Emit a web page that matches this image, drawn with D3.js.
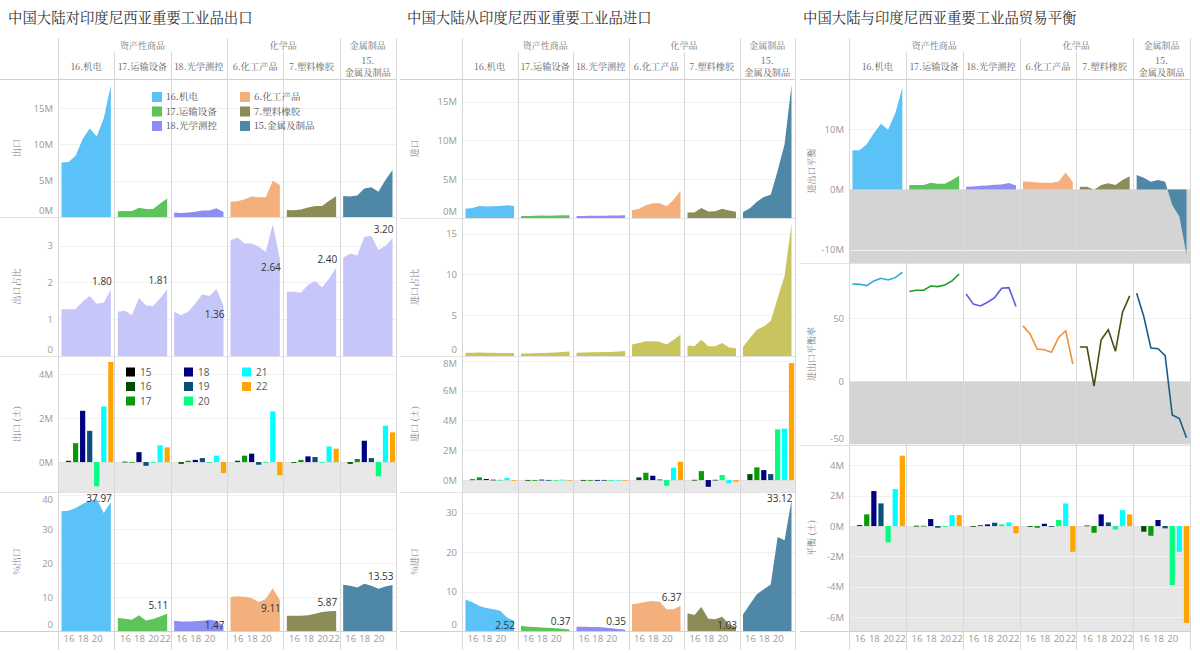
<!DOCTYPE html>
<html><head><meta charset="utf-8">
<script src="https://cdn.jsdelivr.net/npm/d3@7/dist/d3.min.js"></script>
<style>
body{margin:0;background:#fff;}
svg text{font-family:"Open Sans","Noto Sans CJK SC",sans-serif;}
</style></head><body>
<svg id="chart" width="1200" height="653"></svg>
<script>
// ---------------- DATA ----------------
const years = [2015, 2016, 2017, 2018, 2019, 2020, 2021, 2022];
const categories = ["16.机电", "17.运输设备", "18.光学测控", "6.化工产品", "7.塑料橡胶", "15.金属及制品"];
const groupNames = ["资产性商品", "化学品", "金属制品"];
const groupSpans = [3, 2, 1];
const titles = ["中国大陆对印度尼西亚重要工业品出口", "中国大陆从印度尼西亚重要工业品进口", "中国大陆与印度尼西亚重要工业品贸易平衡"];

const catColors = ["#5BC2F7", "#5CC45A", "#8D8DF2", "#F4B07C", "#8C8C58", "#4F87A6"];
const lineColors = ["#2CA8E8", "#1EA01E", "#5B5BE0", "#F0913A", "#4D4D10", "#1B5C86"];
const yearLabels = ["15", "16", "17", "18", "19", "20", "21", "22"];
const yearColors = ["#000000", "#004D00", "#089A08", "#000080", "#0A4F7A", "#00FF80", "#00FFFF", "#FFA500"];

// Exports (million), share, YoY change, % of total
const exportValues = [
  [7.5, 7.56, 8.42, 10.75, 12.17, 11.07, 13.6, 18.15],
  [0.8, 0.82, 0.82, 1.27, 1.1, 1.1, 1.86, 2.53],
  [0.62, 0.56, 0.62, 0.72, 0.9, 0.9, 1.19, 0.69],
  [2.1, 2.16, 2.45, 2.83, 2.71, 2.71, 5.0, 4.4],
  [0.96, 0.94, 1.04, 1.3, 1.53, 1.53, 2.24, 2.85],
  [2.9, 2.82, 2.96, 3.93, 4.11, 3.46, 5.11, 6.46]
];
const exportShare = [
  [1.27, 1.27, 1.27, 1.48, 1.63, 1.42, 1.45, 1.80],
  [1.2, 1.23, 1.11, 1.58, 1.37, 1.36, 1.57, 1.81],
  [1.2, 1.11, 1.2, 1.43, 1.68, 1.63, 1.82, 1.36],
  [3.15, 3.22, 3.06, 3.06, 2.97, 2.83, 3.58, 2.64],
  [1.75, 1.75, 1.72, 1.93, 2.04, 1.86, 2.11, 2.40],
  [2.67, 2.79, 2.73, 3.24, 3.27, 2.88, 3.0, 3.20]
];
const exportChange = [
  [null, 0.06, 0.86, 2.33, 1.42, -1.1, 2.53, 4.55],
  [null, 0.02, 0.01, 0.45, -0.17, 0.01, 0.76, 0.67],
  [null, -0.08, 0.06, 0.1, 0.18, 0.01, 0.29, -0.5],
  [null, 0.06, 0.29, 0.38, -0.12, 0.01, 2.3, -0.6],
  [null, -0.02, 0.1, 0.26, 0.23, 0.01, 0.71, 0.61],
  [null, -0.08, 0.14, 0.97, 0.18, -0.65, 1.65, 1.35]
];
const exportPct = [
  [35.2, 35.4, 36.2, 37.4, 38.3, 38.8, 34.7, 37.97],
  [3.8, 3.6, 3.3, 4.6, 3.1, 3.5, 4.3, 5.11],
  [3.0, 2.8, 2.8, 2.9, 3.0, 3.3, 3.0, 1.47],
  [10.0, 10.2, 10.1, 9.7, 8.5, 9.4, 12.6, 9.11],
  [4.5, 4.5, 4.5, 4.6, 5.1, 5.6, 5.8, 5.87],
  [13.6, 13.3, 12.8, 13.9, 13.3, 12.4, 13.1, 13.53]
];

// Imports
const importValues = [
  [1.2, 1.3, 1.55, 1.47, 1.5, 1.55, 1.65, 1.55],
  [0.25, 0.27, 0.29, 0.32, 0.3, 0.31, 0.35, 0.36],
  [0.25, 0.27, 0.29, 0.3, 0.3, 0.31, 0.33, 0.34],
  [1.0, 1.2, 1.65, 1.9, 1.9, 1.5, 2.35, 3.5],
  [0.7, 0.72, 1.3, 0.85, 0.86, 1.2, 0.95, 0.8],
  [0.77, 1.25, 2.1, 2.7, 3.0, 6.1, 9.5, 17.1]
];
const importShare = [
  [0.4, 0.4, 0.42, 0.4, 0.4, 0.38, 0.38, 0.36],
  [0.3, 0.32, 0.35, 0.38, 0.4, 0.42, 0.5, 0.55],
  [0.4, 0.42, 0.45, 0.47, 0.48, 0.5, 0.55, 0.6],
  [1.4, 1.6, 1.8, 1.8, 1.75, 1.4, 2.0, 2.6],
  [1.28, 1.2, 2.0, 1.2, 1.2, 1.6, 1.05, 0.95],
  [1.1, 2.2, 3.2, 3.6, 4.3, 7.1, 9.8, 16.2]
];
const importChange = [
  [null, 0.05, 0.18, 0.07, 0.03, 0.02, 0.15, 0.01],
  [null, 0.01, 0.01, 0.03, 0.01, 0.01, 0.03, 0.01],
  [null, 0.01, 0.01, 0.01, 0.01, 0.01, 0.01, 0.01],
  [null, 0.18, 0.49, 0.29, 0.04, -0.38, 0.83, 1.23],
  [null, 0.02, 0.6, -0.45, 0.02, 0.34, -0.22, -0.11],
  [null, 0.4, 0.85, 0.67, 0.4, 3.4, 3.45, 7.85]
];
const importPct = [
  [8.0, 7.3, 6.3, 5.8, 5.5, 5.1, 3.4, 2.52],
  [1.3, 1.1, 1.0, 0.9, 0.85, 0.7, 0.55, 0.37],
  [1.1, 1.1, 1.0, 1.0, 0.9, 0.7, 0.5, 0.35],
  [6.8, 7.0, 7.4, 7.6, 7.4, 5.5, 5.5, 6.37],
  [4.5, 4.05, 6.1, 3.1, 3.0, 3.6, 1.7, 1.03],
  [4.2, 6.8, 9.3, 10.6, 11.8, 23.8, 23.0, 33.12]
];

// Balance
const balanceValues = [
  [6.5, 6.5, 7.5, 9.3, 10.9, 9.9, 12.6, 16.85],
  [0.72, 0.72, 0.72, 1.1, 0.94, 0.94, 1.55, 2.26],
  [0.44, 0.5, 0.6, 0.66, 0.77, 0.83, 1.05, 0.66],
  [1.3, 1.25, 1.15, 1.1, 1.1, 1.3, 2.8, 1.2],
  [0.44, 0.44, -0.05, 0.72, 1.0, 0.72, 1.55, 2.2],
  [2.38, 1.93, 1.27, 1.55, 1.27, -2.6, -4.5, -10.8]
];
const balanceRate = [
  [77.1, 76.8, 75.8, 79.5, 81.6, 80.3, 82.1, 86.3],
  [71.1, 72.1, 72.1, 75.5, 75.0, 76.3, 79.5, 85.0],
  [69.2, 61.1, 59.7, 62.6, 66.3, 73.7, 74.2, 59.2],
  [43.9, 37.4, 25.5, 25.0, 22.9, 34.7, 40.0, 13.7],
  [27.1, 27.1, -3.9, 32.9, 40.8, 23.7, 54.7, 67.6],
  [69.7, 51.3, 26.3, 25.8, 20.3, -26.8, -29.5, -44.7]
];
const balanceChange = [
  [null, 0.07, 0.77, 2.3, 1.49, -1.07, 2.43, 4.63],
  [null, 0.02, 0.02, 0.46, -0.11, 0.01, 0.72, 0.72],
  [null, -0.04, 0.07, 0.11, 0.22, 0.11, 0.24, -0.48],
  [null, -0.04, -0.11, 0.15, -0.04, 0.4, 1.49, -1.69],
  [null, 0.04, -0.44, 0.77, 0.24, -0.22, 1.05, 0.77],
  [null, -0.37, -0.64, 0.4, -0.15, -3.88, -1.69, -6.36]
];

// Axis tick values
const ticksExport = [0, 5, 10, 15], ticksExportShare = [0, 1, 2, 3], ticksExportChange = [0, 2, 4], ticksExportPct = [0, 10, 20, 30, 40];
const ticksImport = [0, 5, 10, 15], ticksImportShare = [0, 5, 10, 15], ticksImportChange = [0, 2, 4, 6, 8], ticksImportPct = [0, 10, 20, 30];
const ticksBalance = [-10, 0, 10], ticksBalanceRate = [-50, 0, 50], ticksBalanceChange = [-6, -4, -2, 0, 2, 4];
const xTicksLeft = [[16, 18, 20], [16, 18, 20, 22], [16, 18, 20], [16, 18, 20], [16, 18, 20, 22], [16, 18, 20]];
const xTicksMid = [[16, 18, 20], [16, 18, 20], [16, 18, 20], [16, 18, 20], [16, 18, 20], [16, 18, 20]];
const xTicksRight = [[16, 18, 20, 22], [16, 18, 20, 22], [16, 18, 20, 22], [16, 18, 20, 22], [16, 18, 20, 22], [16, 18, 20]];

// ---------------- LAYOUT ----------------
const CJK = '"Noto Serif CJK SC","Noto Sans CJK SC",serif';
const fmtM = v => v + "M";
const fmtN = v => String(v);
const GREY_LIGHT = "#E8E8E8", GREY_DARK = "#D4D4D4";

const panels = [
  {x0: 0, titleX: 8, axisX: 58, right: 396, yTitleX: 17, xTicks: xTicksLeft, title: titles[0],
   legendCat: {x: 152, dx: 88, y: 97, dy: 14.5}, legendYear: {x: 126, dx: 58, y: 372, dy: 14.5},
   rows: [
     {name: "出口", top: 79, bottom: 217, domain: [0, 19], ticks: ticksExport, fmt: fmtM, type: "area", data: exportValues},
     {name: "出口占比", top: 217, bottom: 356, domain: [0, 3.78], ticks: ticksExportShare, fmt: fmtN, type: "area", data: exportShare, fill: "#C6C6F8",
      endLabel: ["above", "above", "below", "below", "above", "above"], labelFmt: d3.format(".2f")},
     {name: "出口 (±)", top: 356, bottom: 492, domain: [-1.36, 4.82], ticks: ticksExportChange, fmt: fmtM, type: "bars", data: exportChange, neg: GREY_LIGHT},
     {name: "%出口", top: 492, bottom: 631, domain: [0, 40.9], ticks: ticksExportPct, fmt: fmtN, type: "area", data: exportPct,
      endLabel: ["above", "above", "below", "below", "above", "above"], labelFmt: d3.format(".2f")}
   ]},
  {x0: 400, titleX: 407, axisX: 462, right: 795, yTitleX: 415, xTicks: xTicksMid, title: titles[1],
   rows: [
     {name: "进口", top: 79, bottom: 218, domain: [0, 17.9], ticks: ticksImport, fmt: fmtM, type: "area", data: importValues},
     {name: "进口占比", top: 218, bottom: 356, domain: [0, 16.9], ticks: ticksImportShare, fmt: fmtN, type: "area", data: importShare, fill: "#C9C55E"},
     {name: "进口 (±)", top: 356, bottom: 492, domain: [-0.8, 8.32], ticks: ticksImportChange, fmt: fmtM, type: "bars", data: importChange, neg: GREY_LIGHT},
     {name: "%进口", top: 492, bottom: 631, domain: [0, 35.2], ticks: ticksImportPct, fmt: fmtN, type: "area", data: importPct,
      endLabel: ["below", "above", "above", "above", "below", "above"], labelFmt: d3.format(".2f")}
   ]},
  {x0: 800, titleX: 803, axisX: 849, right: 1190, yTitleX: 812, xTicks: xTicksRight, title: titles[2],
   rows: [
     {name: "进出口平衡", top: 79, bottom: 263, domain: [-12.2, 18.3], ticks: ticksBalance, fmt: fmtM, type: "area", data: balanceValues, neg: GREY_DARK},
     {name: "进出口平衡率", top: 263, bottom: 445, domain: [-50.5, 93.7], ticks: ticksBalanceRate, fmt: fmtN, type: "line", data: balanceRate, neg: GREY_DARK},
     {name: "平衡 (±)", top: 445, bottom: 631, domain: [-6.9, 5.33], ticks: ticksBalanceChange, fmt: fmtM, type: "bars", data: balanceChange, neg: "#E6E6E6"}
   ]}
];

const svg = d3.select("#chart");

panels.forEach(p => {
  const g = svg.append("g");
  const xb = d3.scaleBand().domain(categories).range([p.axisX, p.right]);
  const bw = xb.bandwidth();
  const xYear = i => d3.scaleLinear().domain([2015, 2022]).range([xb(categories[i]) + 3.5, xb(categories[i]) + bw - 3.5]);

  // title
  g.append("text").attr("x", p.titleX).attr("y", 23).attr("font-size", 14.4).attr("fill", "#333")
    .style("font-family", CJK).text(p.title);

  // rows
  p.rows.forEach(r => {
    const y = d3.scaleLinear().domain(r.domain).range([r.bottom, r.top]);
    const rg = g.append("g");
    if (r.neg) {
      rg.append("rect").attr("x", p.axisX).attr("width", p.right - p.axisX)
        .attr("y", y(0)).attr("height", r.bottom - y(0)).attr("fill", r.neg);
    }
    // gridlines
    rg.selectAll("line.grid").data(r.ticks).join("line")
      .attr("x1", p.axisX).attr("x2", p.right)
      .attr("y1", d => Math.round(y(d)) + 0.5).attr("y2", d => Math.round(y(d)) + 0.5)
      .attr("stroke", d => d === 0 && r.neg ? "#E0E0E0" : "#F1F1F1").attr("stroke-width", 1);
    // y axis
    const ax = rg.append("g").attr("transform", `translate(${p.axisX - 5},0)`)
      .call(d3.axisLeft(y).tickValues(r.ticks).tickFormat(r.fmt).tickSize(0).tickPadding(0));
    ax.select(".domain").remove();
    ax.selectAll(".tick").each(function (v) {
      const yy = y(v);
      let off = 0;
      if (yy - 7 < r.top) off = r.top + 7 - yy;
      if (yy + 7 > r.bottom) off = r.bottom - 7 - yy;
      d3.select(this).select("text").attr("y", off).attr("fill", "#999").attr("font-size", 9.5)
        .style("font-family", '"Open Sans",sans-serif');
    });
    // y title
    rg.append("text").attr("transform", `translate(${p.yTitleX},${(r.top + r.bottom) / 2}) rotate(-90)`)
      .attr("text-anchor", "middle").attr("dy", "0.35em").attr("font-size", 9).attr("fill", "#777")
      .style("font-family", CJK).text(r.name);

    categories.forEach((c, i) => {
      const xs = xYear(i);
      const vals = r.data[i];
      if (r.type === "area") {
        const area = d3.area().x((d, j) => xs(years[j])).y0(y(0)).y1(d => y(d));
        rg.append("path").attr("d", area(vals)).attr("fill", r.fill || catColors[i]);
      } else if (r.type === "line") {
        const line = d3.line().x((d, j) => xs(years[j])).y(d => y(d));
        rg.append("path").attr("d", line(vals)).attr("fill", "none").attr("stroke", lineColors[i]).attr("stroke-width", 1.6);
      } else if (r.type === "bars") {
        rg.selectAll(null).data(vals.map((v, j) => ({v, j})).filter(d => d.v !== null)).join("rect")
          .attr("x", d => xs(years[d.j]) - 2.6).attr("width", 5.2)
          .attr("y", d => Math.min(y(d.v), y(0))).attr("height", d => Math.max(0.8, Math.abs(y(d.v) - y(0))))
          .attr("fill", d => yearColors[d.j]);
      }
      if (r.endLabel) {
        const last = vals[vals.length - 1];
        const py = y(last);
        let base = r.endLabel[i] === "above" ? py - 5 : py + 12;
        base = Math.max(r.top + 10, Math.min(r.bottom - 2, base));
        rg.append("text").attr("x", xs(2022) + 1).attr("y", base).attr("text-anchor", "end")
          .attr("font-size", 10).attr("fill", "#333").text(r.labelFmt(last));
      }
    });
    // row separator
    rg.append("line").attr("x1", p.x0).attr("x2", p.right).attr("y1", r.bottom + 0.5).attr("y2", r.bottom + 0.5)
      .attr("stroke", "#E2E2E2");
  });

  // x axis labels
  categories.forEach((c, i) => {
    const xs = xYear(i);
    const colRight = xb(c) + bw;
    const ax = g.append("g").attr("transform", `translate(0,631)`)
      .call(d3.axisBottom(xs).tickValues(p.xTicks[i].map(t => 2000 + t)).tickFormat(d => String(d).slice(2)).tickSize(0).tickPadding(4));
    ax.select(".domain").remove();
    ax.selectAll("text").attr("fill", "#999").attr("font-size", 9.5).style("font-family", '"Open Sans",sans-serif');
    ax.selectAll(".tick").each(function (v) {
      const tx = xs(v);
      const over = tx + 6 - colRight;
      if (over > 0) d3.select(this).select("text").attr("x", -over);
    });
  });

  // header and frame lines
  g.append("line").attr("x1", p.x0).attr("x2", p.right).attr("y1", 79.5).attr("y2", 79.5).attr("stroke", "#D0D0D0");
  g.append("line").attr("x1", p.x0).attr("x2", p.right).attr("y1", 631.5).attr("y2", 631.5).attr("stroke", "#D0D0D0");
  const groupBounds = [0];
  groupSpans.forEach(s => groupBounds.push(groupBounds[groupBounds.length - 1] + s));
  d3.range(categories.length + 1).forEach(k => {
    const xx = Math.round(p.axisX + k * bw) + 0.5;
    const isGroup = groupBounds.includes(k);
    g.append("line").attr("x1", xx).attr("x2", xx).attr("y1", isGroup ? 38 : 52).attr("y2", 650)
      .attr("stroke", "#D8D8D8");
  });
  // group labels
  groupNames.forEach((gn, gi) => {
    const a = p.axisX + groupBounds[gi] * bw, b = p.axisX + groupBounds[gi + 1] * bw;
    g.append("text").attr("x", (a + b) / 2).attr("y", 48.5).attr("text-anchor", "middle").attr("font-size", 9)
      .attr("fill", "#777").style("font-family", CJK).text(gn);
  });
  // category labels
  categories.forEach((c, i) => {
    const cx = xb(c) + bw / 2;
    const lines = c.length > 7 ? [c.slice(0, c.indexOf(".") + 1), c.slice(c.indexOf(".") + 1)] : [c];
    lines.forEach((ln, li) => {
      g.append("text").attr("x", cx).attr("y", lines.length === 1 ? 69.5 : 63.5 + li * 12).attr("text-anchor", "middle")
        .attr("font-size", 9.2).attr("fill", "#666").style("font-family", CJK).text(ln);
    });
  });

  // legends
  if (p.legendCat) {
    const L = p.legendCat;
    categories.forEach((c, i) => {
      const lx = L.x + Math.floor(i / 3) * L.dx, ly = L.y + (i % 3) * L.dy;
      g.append("rect").attr("x", lx).attr("y", ly - 5).attr("width", 10).attr("height", 10).attr("fill", catColors[i]);
      g.append("text").attr("x", lx + 14).attr("y", ly).attr("dy", "0.35em").attr("font-size", 9.5).attr("fill", "#555")
        .style("font-family", CJK).text(c);
    });
  }
  if (p.legendYear) {
    const L = p.legendYear;
    yearLabels.forEach((yl, i) => {
      const lx = L.x + Math.floor(i / 3) * L.dx, ly = L.y + (i % 3) * L.dy;
      g.append("rect").attr("x", lx).attr("y", ly - 4.5).attr("width", 9).attr("height", 9).attr("fill", yearColors[i]);
      g.append("text").attr("x", lx + 14).attr("y", ly).attr("dy", "0.35em").attr("font-size", 10).attr("fill", "#555").text(yl);
    });
  }
});
</script>
</body></html>
